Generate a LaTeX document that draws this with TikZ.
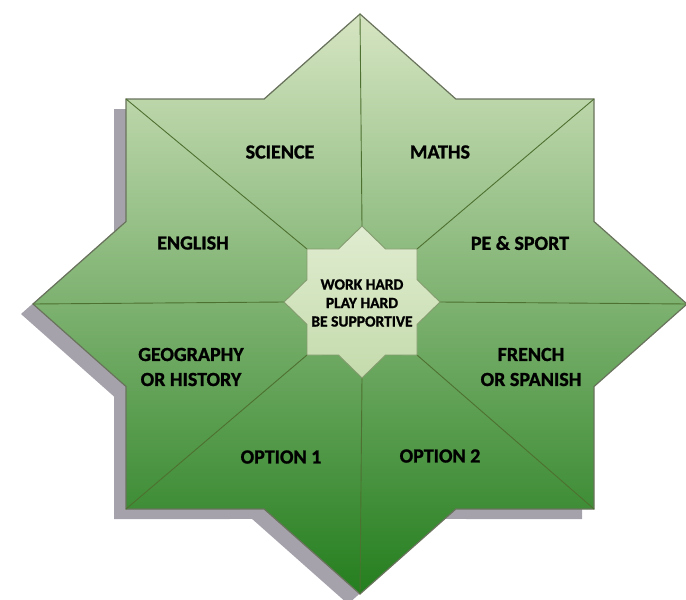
\documentclass[tikz,border=0pt]{standalone}
\usepackage{fontspec}
\setmainfont{Carlito}[BoldFeatures={FakeBold=1.2}]
\usetikzlibrary{calc}
\definecolor{startop}{RGB}{214,229,194}
\definecolor{starmid}{RGB}{156,197,116}
\definecolor{starbot}{RGB}{36,126,30}
\definecolor{hubtop}{RGB}{224,236,208}
\definecolor{hubbot}{RGB}{196,219,172}
\definecolor{shadowgray}{RGB}{166,162,172}
\definecolor{rimgray}{RGB}{105,115,92}
\definecolor{spokegreen}{RGB}{78,112,48}
\newcommand{\makestar}[6]{
	\coordinate (#1) at (#2);
	\coordinate (#1N) at ($(#1)+(0,-#6)$);
	\coordinate (#1S) at ($(#1)+(0,#6)$);
	\coordinate (#1E) at ($(#1)+(#5,0)$);
	\coordinate (#1W) at ($(#1)+(-#5,0)$);
	\coordinate (#1NE) at ($(#1)+(#3,-#4)$);
	\coordinate (#1SE) at ($(#1)+(#3,#4)$);
	\coordinate (#1SW) at ($(#1)+(-#3,#4)$);
	\coordinate (#1NW) at ($(#1)+(-#3,-#4)$);
	\coordinate (#1a) at (intersection of #1N--#1E and #1NW--#1NE);
	\coordinate (#1b) at (intersection of #1N--#1E and #1NE--#1SE);
	\coordinate (#1c) at (intersection of #1E--#1S and #1NE--#1SE);
	\coordinate (#1d) at (intersection of #1E--#1S and #1SW--#1SE);
	\coordinate (#1e) at (intersection of #1S--#1W and #1SW--#1SE);
	\coordinate (#1f) at (intersection of #1S--#1W and #1NW--#1SW);
	\coordinate (#1g) at (intersection of #1W--#1N and #1NW--#1SW);
	\coordinate (#1h) at (intersection of #1W--#1N and #1NW--#1NE);
}
\newcommand{\starpath}[1]{(#1N) -- (#1a) -- (#1NE) -- (#1b) -- (#1E) -- (#1c) -- (#1SE) -- (#1d)
	-- (#1S) -- (#1e) -- (#1SW) -- (#1f) -- (#1W) -- (#1g) -- (#1NW) -- (#1h) -- cycle}
\tikzset{
	rim/.style={draw=rimgray, line width=1.2pt},
	spoke/.style={draw=spokegreen, line width=0.9pt},
	subject/.style={font=\fontsize{20}{25}\selectfont\bfseries, align=center},
	motto/.style={font=\fontsize{15.5}{18.5}\selectfont\bfseries, align=center}
}
\begin{document}
\begin{tikzpicture}[x=1pt,y=-1pt]
	\useasboundingbox (0,0) rectangle (686,600);
	\makestar{out}{360,304}{234}{205}{327}{290}
	\makestar{in}{362,302}{55}{53}{78}{76}

	% shadow
	\fill[shadowgray, transform canvas={shift={(-12,10)}}] \starpath{out};

	\shade[top color=startop, middle color=starmid, bottom color=starbot] \starpath{out};
	\draw[rim] \starpath{out};

	\foreach \p in {N,NE,E,SE,S,SW,W,NW}
		\draw[spoke] (out\p) -- (in\p);

	\shade[top color=hubtop, bottom color=hubbot] \starpath{in};
	\draw[spoke, draw=spokegreen!70] \starpath{in};

	\node[subject] (science) at (280,152) {SCIENCE};
	\node[subject] (maths) at (440,152) {MATHS};
	\node[subject] (english) at (193,243) {ENGLISH};
	\node[subject] (pesport) at (520,243) {PE \& SPORT};
	\node[subject] (geography) at (191,367) {GEOGRAPHY\\OR HISTORY};
	\node[subject] (french) at (531,367) {FRENCH\\OR SPANISH};
	\node[subject] (option1) at (281,457) {OPTION 1};
	\node[subject] (option2) at (440,456) {OPTION 2};
	\node[motto] (motto) at (362,303) {WORK HARD\\PLAY HARD\\BE SUPPORTIVE};
\end{tikzpicture}
\end{document}
